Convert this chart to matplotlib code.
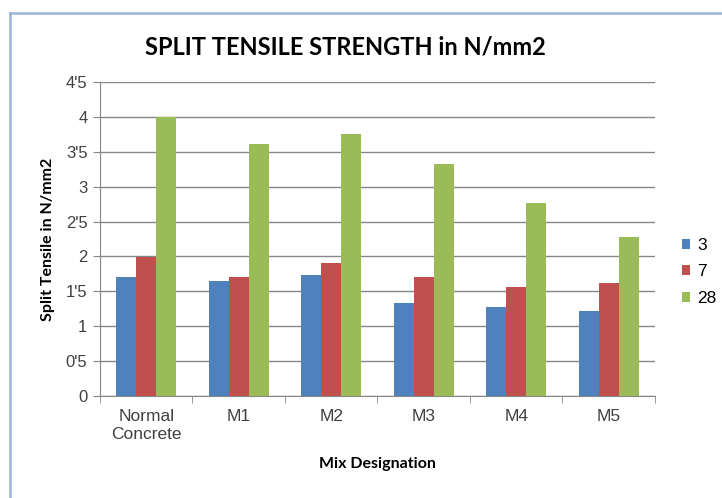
import numpy as np
import matplotlib.pyplot as plt
from matplotlib.lines import Line2D

# dane z wykresu
mixes = ['Normal\nConcrete', 'M1', 'M2', 'M3', 'M4', 'M5']
days = ['3', '7', '28']
day3 = [1.70, 1.65, 1.74, 1.34, 1.27, 1.22]
day7 = [1.99, 1.71, 1.90, 1.70, 1.56, 1.62]
day28 = [4.00, 3.61, 3.75, 3.32, 2.76, 2.28]
yticks = [0, 0.5, 1, 1.5, 2, 2.5, 3, 3.5, 4, 4.5]
ytick_labels = ['0', "0'5", '1', "1'5", '2', "2'5", '3', "3'5", '4', "4'5"]

colors = ['#4f81bd', '#c0504d', '#9bbb59']

fig = plt.figure(figsize=(7.22, 4.98), dpi=100)
ax = fig.add_axes([0.1385, 0.2048, 0.7687, 0.6305])

x = np.arange(len(mixes))
w = 0.216
for i, (vals, c) in enumerate(zip([day3, day7, day28], colors)):
    ax.bar(x + (i - 1) * w, vals, width=w, color=c, label=days[i], zorder=3)

ax.set_xlim(-0.5, len(mixes) - 0.5)
ax.set_ylim(0, 4.5)
ax.set_yticks(yticks)
ax.set_yticklabels(ytick_labels, fontsize=12, color='#404040', family='Liberation Sans')
ax.set_xticks(x)
ax.set_xticklabels(mixes, fontsize=12.5, color='#404040', family='Liberation Sans', linespacing=1.3)
ax.set_xticks(np.arange(len(mixes) + 1) - 0.5, minor=True)
ax.tick_params(axis='x', which='major', length=0, pad=9)
ax.tick_params(axis='x', which='minor', length=5, color='#878787')
ax.tick_params(axis='y', length=5, color='#878787', pad=4)

ax.grid(axis='y', color='#878787', linewidth=1, zorder=0)
for s in ['top', 'right']:
    ax.spines[s].set_visible(False)
ax.spines['left'].set_color('#878787')
ax.spines['bottom'].set_color('#878787')

ax.set_ylabel('Split Tensile in N/mm2', fontsize=11.5, fontweight='bold', family='Lato', labelpad=8)
ax.set_xlabel('Mix Designation', fontsize=11.5, fontweight='bold', family='Lato', labelpad=11)
fig.text(0.478, 0.905, 'SPLIT TENSILE STRENGTH in N/mm2', ha='center', va='center',
         fontsize=17, fontweight='bold', family='Lato')

ax.legend(loc='center left', bbox_to_anchor=(1.02, 0.395), frameon=False,
          handlelength=0.5, handleheight=0.5, handletextpad=0.4, labelspacing=0.65,
          prop={'family': 'Liberation Sans', 'size': 12.5})

# ramka wykresu
fig.add_artist(Line2D([0.014, 0.014], [0.0, 0.974], color='#9db4d8', linewidth=1.8))
fig.add_artist(Line2D([0.014, 1.0], [0.974, 0.974], color='#9db4d8', linewidth=1.8))

fig.savefig('out.png', dpi=100)
